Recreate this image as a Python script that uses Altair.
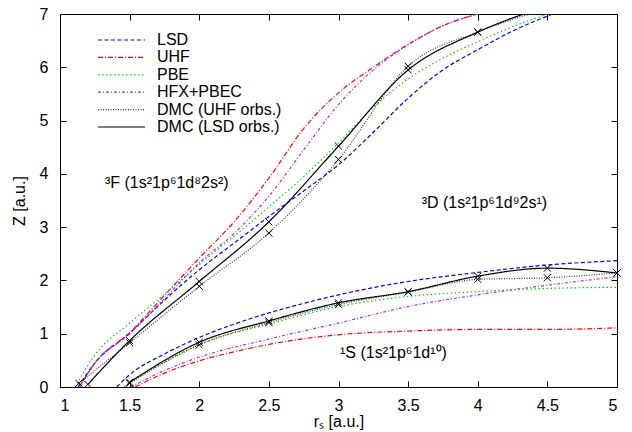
import altair as alt
import pandas as pd

FONT = "Liberation Sans"

SERIES = ["LSD", "UHF", "PBE", "HFX+PBEC", "DMC (UHF orbs.)", "DMC (LSD orbs.)"]
COLORS = ["#0000ff", "#ff0000", "#00d200", "#9933ff", "#3a3a3a", "#000000"]
DASHES = [[4, 2.5], [5, 2, 1, 2], [1.5, 2.5], [3, 2, 1, 2], [1, 1.5], [1, 0]]
WIDTHS = [1.2, 1.2, 1.5, 1.3, 1.0, 2.2]

# ---- upper boundary (3F / 3D) ----
lsd_up_x = [1.13, 1.25, 1.5, 1.75, 2.0, 2.25, 2.5, 2.75, 3.0, 3.25, 3.5, 3.75, 4.0, 4.25, 4.54]
lsd_up_y = [0.0, 0.45, 1.01, 1.63, 2.20, 2.70, 3.20, 3.68, 4.17, 4.78, 5.42, 5.95, 6.33, 6.68, 7.0]

uhf_up_x = [1.14, 1.25, 1.5, 1.75, 2.0, 2.25, 2.5, 2.75, 3.0, 3.25, 3.5, 3.75, 4.0]
uhf_up_y = [0.0, 0.45, 1.02, 1.72, 2.42, 3.10, 3.92, 4.85, 5.52, 6.00, 6.43, 6.78, 7.0]

pbe_up_x = [1.108, 1.25, 1.5, 1.75, 2.0, 2.25, 2.5, 2.75, 3.0, 3.25, 3.5, 3.75, 4.0, 4.25, 4.5]
pbe_up_y = [0.0, 0.60, 1.20, 1.74, 2.30, 2.83, 3.38, 3.95, 4.58, 5.25, 5.78, 6.17, 6.48, 6.76, 7.0]

hfx_up_x = [1.14, 1.25, 1.5, 1.75, 2.0, 2.25, 2.5, 2.75, 3.0, 3.25, 3.5, 3.75, 4.0]
hfx_up_y = [0.0, 0.44, 1.0, 1.66, 2.33, 2.88, 3.58, 4.45, 5.30, 5.95, 6.42, 6.78, 7.0]

dmcu_up_x = [1.136, 1.5, 2.0, 2.5, 3.0, 3.5, 4.0, 4.5]
dmcu_up_y = [0.07, 0.83, 1.89, 2.89, 4.27, 6.02, 6.66, 7.10]

dmcl_up_x = [1.2, 1.5, 2.0, 2.5, 3.0, 3.5, 4.0, 4.5]
dmcl_up_y = [0.05, 0.87, 1.98, 3.10, 4.52, 5.95, 6.66, 7.15]

# ---- lower boundary (3D / 1S) ----
lsd_lo_x = [1.407, 1.5, 1.75, 2.0, 2.25, 2.5, 2.75, 3.0, 3.5, 4.0, 4.5, 5.0]
lsd_lo_y = [0.0, 0.23, 0.62, 0.93, 1.18, 1.39, 1.57, 1.73, 1.98, 2.15, 2.29, 2.37]

uhf_lo_x = [1.54, 1.75, 2.0, 2.25, 2.5, 3.0, 3.5, 4.0, 4.5, 5.0]
uhf_lo_y = [0.0, 0.26, 0.49, 0.66, 0.80, 0.98, 1.05, 1.08, 1.08, 1.11]

pbe_lo_x = [1.46, 1.5, 1.75, 2.0, 2.5, 3.0, 3.5, 4.0, 4.5, 5.0]
pbe_lo_y = [0.0, 0.08, 0.47, 0.80, 1.18, 1.51, 1.70, 1.79, 1.85, 1.87]

hfx_lo_x = [1.51, 1.75, 2.0, 2.5, 3.0, 3.5, 4.0, 4.5, 5.0]
hfx_lo_y = [0.0, 0.31, 0.56, 0.90, 1.20, 1.51, 1.73, 1.91, 2.07]

dmcu_lo_x = [1.5, 2.0, 2.5, 3.0, 3.5, 4.0, 4.5, 5.0]
dmcu_lo_y = [0.07, 0.79, 1.21, 1.55, 1.78, 2.02, 2.05, 2.14]

dmcl_lo_x = [1.5, 2.0, 2.5, 3.0, 3.5, 4.0, 4.5, 5.0]
dmcl_lo_y = [0.09, 0.84, 1.24, 1.58, 1.79, 2.08, 2.23, 2.14]

# ---- annotations ----
ann_text = ["³F (1s²1p⁶1d⁸2s²)", "³D (1s²1p⁶1d⁹2s¹)", "¹S (1s²1p⁶1d¹⁰)"]
ann_x = [1.323, 3.597, 3.011]
ann_y = [3.73, 3.36, 0.54]

x_ticks = [1, 1.5, 2, 2.5, 3, 3.5, 4, 4.5, 5]
y_ticks = [0, 1, 2, 3, 4, 5, 6, 7]

curves = [
    ("LSD", "up", lsd_up_x, lsd_up_y), ("UHF", "up", uhf_up_x, uhf_up_y),
    ("PBE", "up", pbe_up_x, pbe_up_y), ("HFX+PBEC", "up", hfx_up_x, hfx_up_y),
    ("DMC (UHF orbs.)", "up", dmcu_up_x, dmcu_up_y), ("DMC (LSD orbs.)", "up", dmcl_up_x, dmcl_up_y),
    ("LSD", "lo", lsd_lo_x, lsd_lo_y), ("UHF", "lo", uhf_lo_x, uhf_lo_y),
    ("PBE", "lo", pbe_lo_x, pbe_lo_y), ("HFX+PBEC", "lo", hfx_lo_x, hfx_lo_y),
    ("DMC (UHF orbs.)", "lo", dmcu_lo_x, dmcu_lo_y), ("DMC (LSD orbs.)", "lo", dmcl_lo_x, dmcl_lo_y),
]
rows = []
for s, b, xs, ys in curves:
    for i, (xv, yv) in enumerate(zip(xs, ys)):
        rows.append({"series": s, "key": s + "|" + b, "x": xv, "y": yv, "i": i})
df = pd.DataFrame(rows)

mdf = df[df["series"].str.startswith("DMC") & (df["y"] <= 7.0)].copy()
adf = pd.DataFrame({"label": ann_text, "x": ann_x, "y": ann_y})
ldf = pd.DataFrame({"series": SERIES, "row": list(range(len(SERIES)))})

xscale = alt.Scale(domain=[1, 5], nice=False, zero=False)
yscale = alt.Scale(domain=[0, 7], nice=False, zero=False)

color_enc = alt.Color("series:N", scale=alt.Scale(domain=SERIES, range=COLORS), legend=None)
dash_enc = alt.StrokeDash("series:N", scale=alt.Scale(domain=SERIES, range=DASHES), legend=None)
width_enc = alt.StrokeWidth("series:N", scale=alt.Scale(domain=SERIES, range=WIDTHS), legend=None)

lines = alt.Chart(df).mark_line(interpolate="monotone", clip=True).encode(
    x=alt.X("x:Q", scale=xscale,
            axis=alt.Axis(orient="bottom", values=x_ticks, format="~g", offset=-6, tickSize=6,
                          domain=False, grid=False, labelPadding=10, title="rₛ [a.u.]",
                          titleBaseline="alphabetic", titleY=45)),
    y=alt.Y("y:Q", scale=yscale,
            axis=alt.Axis(orient="left", values=y_ticks, format="d", offset=-6, tickSize=6,
                          domain=False, grid=False, labelPadding=12, title="Z [a.u.]",
                          titleBaseline="alphabetic", titleX=-42)),
    color=color_enc, strokeDash=dash_enc, strokeWidth=width_enc,
    detail="key:N",
    order="i:Q",
)

pts = alt.Chart(mdf).mark_point(shape="M-1,-1L1,1M-1,1L1,-1", filled=False, size=50,
                                 color="black", strokeWidth=1, opacity=1).encode(
    x=alt.X("x:Q", scale=xscale,
            axis=alt.Axis(orient="top", values=x_ticks, offset=-6, tickSize=6, labels=False,
                          domain=False, grid=False, title=None)),
    y=alt.Y("y:Q", scale=yscale,
            axis=alt.Axis(orient="right", values=y_ticks, offset=-6, tickSize=6, labels=False,
                          domain=False, grid=False, title=None)),
)

texts = alt.Chart(adf).mark_text(align="left", baseline="alphabetic", font=FONT,
                                 fontSize=16, color="black").encode(
    x=alt.X("x:Q", scale=xscale, axis=None),
    y=alt.Y("y:Q", scale=yscale, axis=None),
    text="label:N",
)

# legend drawn from the series list, one row per series
row_scale = alt.Scale(domain=[0, 5], range=[26, 113])
leg_rules = alt.Chart(ldf).mark_rule().encode(
    x=alt.value(38), x2=alt.value(85),
    y=alt.Y("row:Q", scale=row_scale, axis=None),
    color=color_enc, strokeDash=dash_enc, strokeWidth=width_enc,
)
leg_text = alt.Chart(ldf).mark_text(align="left", baseline="middle", font=FONT,
                                    fontSize=16, color="black").encode(
    x=alt.value(97),
    y=alt.Y("row:Q", scale=row_scale, axis=None),
    text="series:N",
)

chart = alt.layer(lines, pts, texts, leg_rules, leg_text).resolve_axis(
    x="independent", y="independent"
).resolve_scale(y="independent").properties(
    width=557, height=373,
    padding={"left": 52, "top": 6, "right": 7, "bottom": 44},
    autosize=alt.AutoSizeParams(type="none"),
).configure_view(stroke="black", strokeWidth=1).configure_axis(
    labelFont=FONT, labelFontSize=16, labelColor="black", titleFont=FONT, titleFontSize=16,
    titleFontWeight="normal", titleColor="black", tickColor="black", tickWidth=1,
)

chart.save("out.html", embed_options={"renderer": "svg", "actions": False})
